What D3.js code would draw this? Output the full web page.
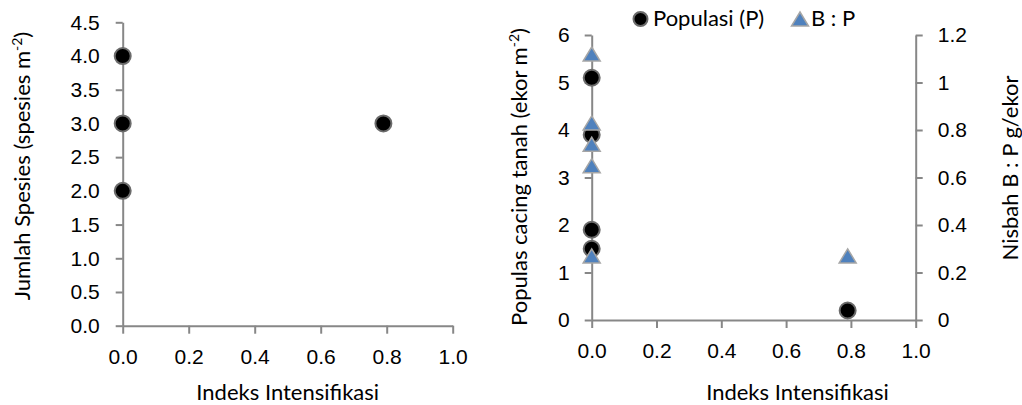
<!DOCTYPE html>
<html>
<head>
<meta charset="utf-8">
<script src="https://cdn.jsdelivr.net/npm/d3@7"></script>
<style>
  body { margin: 0; background: #fff; }
  svg { font-family: Lato, "Open Sans", sans-serif; }
  .axis path, .axis line { stroke: #878787; stroke-width: 2; }
  .axis text { font-size: 21px; fill: #000; }
  .title { font-size: 22px; fill: #000; }
</style>
</head>
<body>
<svg id="chart" width="1022" height="405"></svg>
<script>
// left panel: species count
var speciesX = [0, 0, 0, 0.79];
var speciesY = [4.0, 3.0, 2.0, 3.0];

// right panel: population (left axis) and B:P ratio (right axis)
var popX = [0, 0, 0, 0, 0.79];
var popY = [5.1, 3.9, 1.9, 1.5, 0.2];
var ratioX = [0, 0, 0, 0, 0, 0.79];
var ratioY = [1.12, 0.83, 0.74, 0.65, 0.27, 0.27];

var legendNames = ['Populasi (P)', 'B : P'];

var svg = d3.select('#chart');
var fmt1 = d3.format('.1f');
var fmtShort = function(d) { return String(+d.toFixed(1)); };

// marker shapes
function triPath(w, h) {
    return 'M0,' + (-h / 2) + 'L' + (w / 2) + ',' + (h / 2) + 'L' + (-w / 2) + ',' + (h / 2) + 'Z';
}
function circles(g, xs, ys, x, y) {
    g.selectAll(null).data(xs).enter().append('circle')
        .attr('cx', function(d) { return x(d); })
        .attr('cy', function(d, i) { return y(ys[i]); })
        .attr('r', 8)
        .attr('fill', '#000')
        .attr('stroke', '#6b6b6b')
        .attr('stroke-width', 2);
}
function triangles(g, xs, ys, x, y) {
    g.selectAll(null).data(xs).enter().append('path')
        .attr('d', triPath(17, 14))
        .attr('transform', function(d, i) { return 'translate(' + x(d) + ',' + y(ys[i]) + ')'; })
        .attr('fill', '#4F81BD')
        .attr('stroke', '#a6a6a6')
        .attr('stroke-width', 1.5);
}
function yTitle(x, y, main, sup, tail) {
    var t = svg.append('text').attr('class', 'title')
        .attr('transform', 'translate(' + x + ',' + y + ') rotate(-90)')
        .attr('text-anchor', 'middle');
    t.append('tspan').text(main);
    if (sup) {
        t.append('tspan').attr('dy', -8).style('font-size', '14px').text(sup);
        t.append('tspan').attr('dy', 8).text(tail);
    }
}

/* ---- Left panel ---- */
var x1 = d3.scaleLinear().domain([0, 1]).range([122.7, 452.7]);
var y1 = d3.scaleLinear().domain([0, 4.5]).range([325.7, 22.3]);

svg.append('g').attr('class', 'axis')
    .attr('transform', 'translate(0,' + y1(0) + ')')
    .call(d3.axisBottom(x1).ticks(5).tickFormat(fmt1).tickSize(8).tickSizeOuter(0).tickPadding(15));
svg.append('g').attr('class', 'axis')
    .attr('transform', 'translate(' + x1(0) + ',0)')
    .call(d3.axisLeft(y1).ticks(9).tickFormat(fmt1).tickSize(7).tickSizeOuter(0).tickPadding(16));

circles(svg.append('g'), speciesX, speciesY, x1, y1);

svg.append('text').attr('class', 'title').attr('text-anchor', 'middle')
    .attr('x', (x1(0) + x1(1)) / 2).attr('y', 400).text('Indeks Intensifikasi');
yTitle(30, 166, 'Jumlah Spesies (spesies m', '-2', ')');

/* ---- Right panel ---- */
var x2 = d3.scaleLinear().domain([0, 1]).range([591.7, 915.7]);
var y2 = d3.scaleLinear().domain([0, 6]).range([320, 35]);
var y3 = d3.scaleLinear().domain([0, 1.2]).range([320, 35]);

svg.append('g').attr('class', 'axis')
    .attr('transform', 'translate(0,' + y2(0) + ')')
    .call(d3.axisBottom(x2).ticks(5).tickFormat(fmt1).tickSize(8).tickSizeOuter(0).tickPadding(15));
svg.append('g').attr('class', 'axis')
    .attr('transform', 'translate(' + x2(0) + ',0)')
    .call(d3.axisLeft(y2).ticks(6).tickFormat(d3.format('d')).tickSize(7).tickSizeOuter(0).tickPadding(15));
svg.append('g').attr('class', 'axis')
    .attr('transform', 'translate(' + x2(1) + ',0)')
    .call(d3.axisRight(y3).ticks(6).tickFormat(fmtShort).tickSize(7).tickSizeOuter(0).tickPadding(15));

circles(svg.append('g'), popX, popY, x2, y2);
triangles(svg.append('g'), ratioX, ratioY, x2, y3);

svg.append('text').attr('class', 'title').attr('text-anchor', 'middle')
    .attr('x', 797.5).attr('y', 400).text('Indeks Intensifikasi');
yTitle(527, 177, 'Populas cacing tanah (ekor m', '-2', ')');
yTitle(1018, 168, 'Nisbah B : P g/ekor');

// legend
var lg = svg.append('g');
lg.append('circle').attr('cx', 640.5).attr('cy', 19).attr('r', 7)
    .attr('fill', '#000').attr('stroke', '#6b6b6b').attr('stroke-width', 2);
lg.append('text').attr('class', 'title').attr('x', 653).attr('y', 26).text(legendNames[0]);
lg.append('path').attr('d', triPath(17, 14)).attr('transform', 'translate(800,19)')
    .attr('fill', '#4F81BD').attr('stroke', '#a6a6a6').attr('stroke-width', 1.5);
lg.append('text').attr('class', 'title').attr('x', 811).attr('y', 26).text(legendNames[1]);
</script>
</body>
</html>
